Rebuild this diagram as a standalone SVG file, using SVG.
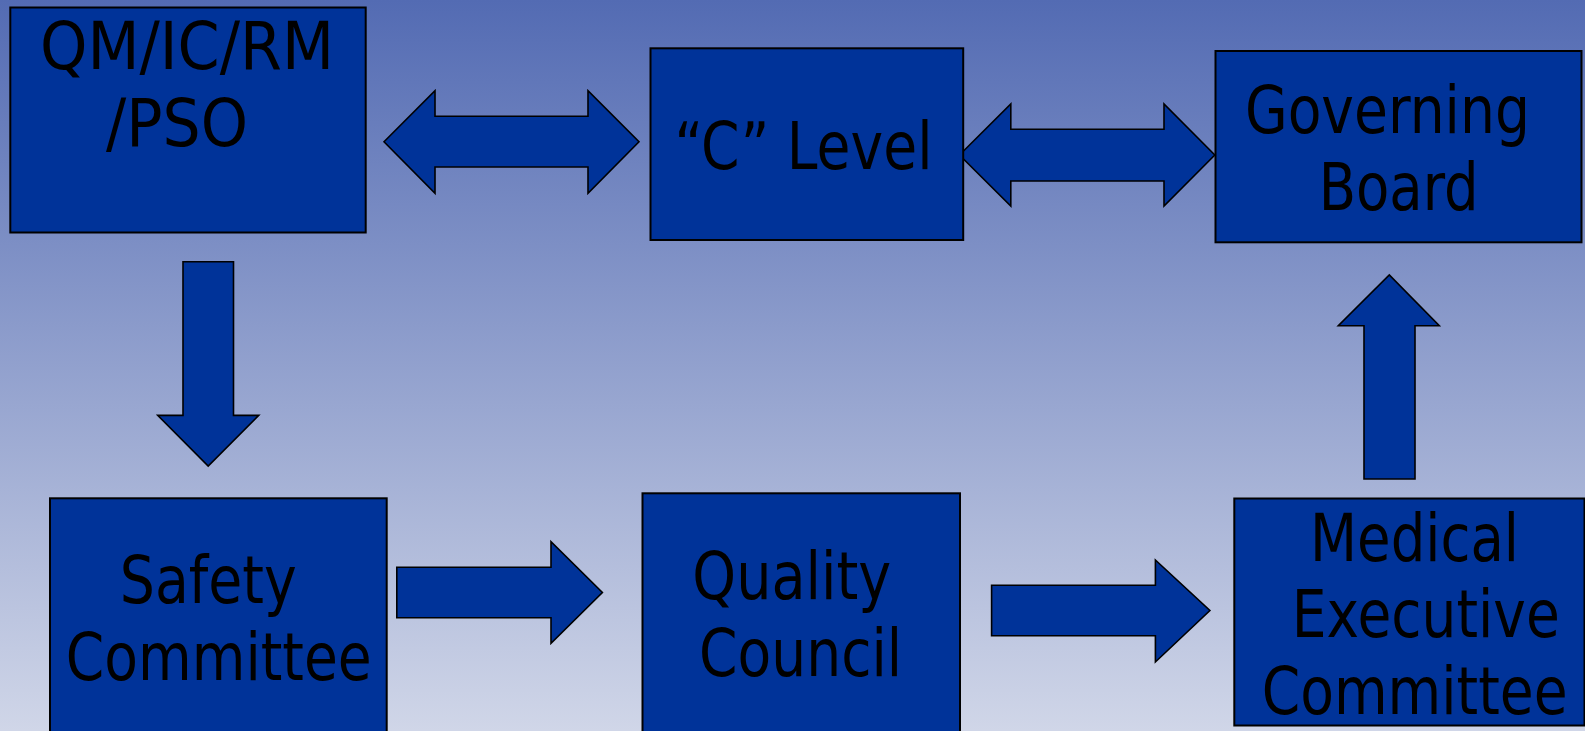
<svg xmlns="http://www.w3.org/2000/svg" width="1585" height="731" viewBox="0 0 1585 731">
<defs>
<linearGradient id="bg" x1="0" y1="0" x2="0" y2="731" gradientUnits="userSpaceOnUse">
<stop offset="0" stop-color="#536BB3"/>
<stop offset="1" stop-color="#D0D6E8"/>
</linearGradient>
<style>
.box{fill:#003399;stroke:#000;stroke-width:2}
.arr{fill:#003399;stroke:#000;stroke-width:1.6;stroke-linejoin:miter}
.t{font-family:"DejaVu Sans","Liberation Sans",sans-serif;font-size:65px;fill:#000;text-anchor:middle}
</style>
</defs>
<rect width="1585" height="731" fill="url(#bg)"/>
<g id="connectors">
<polygon class="arr" points="384,141.7 435,90.7 435,116.3 588,116.3 588,90.7 639,141.7 588,193.3 588,167 435,167 435,193.3"/>
<polygon class="arr" points="959.5,155 1010.8,104 1010.8,129.3 1164,129.3 1164,104 1214.8,155 1164,206 1164,181 1010.8,181 1010.8,206"/>
<polygon class="arr" points="183,261.8 233.5,261.8 233.5,415.4 258.8,415.4 208.2,466 157.7,415.4 183,415.4"/>
<polygon class="arr" points="396.8,567.3 551,567.3 551,541.7 602.4,592.5 551,643.3 551,617.7 396.8,617.7"/>
<polygon class="arr" points="991.6,585.3 1155.4,585.3 1155.4,560 1209.9,610.5 1155.4,662 1155.4,635.8 991.6,635.8"/>
<polygon class="arr" points="1364,479 1364,325.7 1338.3,325.7 1389.3,275 1439.3,325.7 1415,325.7 1415,479"/>
</g>
<g id="qm">
<rect class="box" x="10.3" y="7.5" width="355.4" height="225"/>
<text class="t" x="187" y="69" textLength="294" lengthAdjust="spacingAndGlyphs">QM/IC/RM</text>
<text class="t" x="177" y="145.7" textLength="142" lengthAdjust="spacingAndGlyphs">/PSO</text>
</g>
<g id="clevel">
<rect class="box" x="650.5" y="48.3" width="312.7" height="191.7"/>
<text class="t" x="803.5" y="169.3" textLength="258" lengthAdjust="spacingAndGlyphs">“C” Level</text>
</g>
<g id="governing">
<rect class="box" x="1215.5" y="51" width="366" height="191.3"/>
<text class="t" x="1387.4" y="133.3" textLength="285" lengthAdjust="spacingAndGlyphs">Governing</text>
<text class="t" x="1398.7" y="210" textLength="160" lengthAdjust="spacingAndGlyphs">Board</text>
</g>
<g id="safety">
<rect class="box" x="50" y="498.3" width="336.7" height="250"/>
<text class="t" x="208.3" y="602.7" textLength="177" lengthAdjust="spacingAndGlyphs">Safety</text>
<text class="t" x="218.8" y="680" textLength="306" lengthAdjust="spacingAndGlyphs">Committee</text>
</g>
<g id="quality">
<rect class="box" x="642.5" y="493.3" width="317.5" height="255"/>
<text class="t" x="791.8" y="599.3" textLength="199" lengthAdjust="spacingAndGlyphs">Quality</text>
<text class="t" x="800.6" y="676" textLength="203" lengthAdjust="spacingAndGlyphs">Council</text>
</g>
<g id="mec">
<rect class="box" x="1234.3" y="498.5" width="350.2" height="227"/>
<text class="t" x="1414.5" y="560.7" textLength="209" lengthAdjust="spacingAndGlyphs">Medical</text>
<text class="t" x="1425.8" y="637.3" textLength="268" lengthAdjust="spacingAndGlyphs">Executive</text>
<text class="t" x="1414.7" y="714" textLength="306" lengthAdjust="spacingAndGlyphs">Committee</text>
</g>
</svg>
